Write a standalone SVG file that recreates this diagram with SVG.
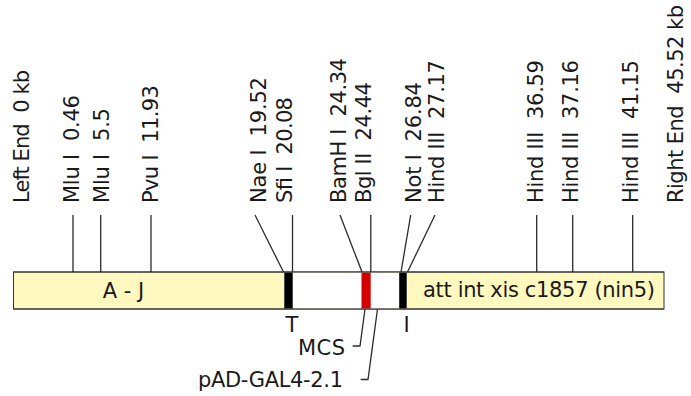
<svg xmlns="http://www.w3.org/2000/svg" width="691" height="396" viewBox="0 0 691 396">
<style>
text{font-family:"DejaVu Sans","Liberation Sans",sans-serif;font-size:21px;fill:#1a1a1a;white-space:pre}
.ln{stroke:#2a2a2a;stroke-width:1.3;fill:none}
.bar{stroke:#333;stroke-width:1}
</style>
<rect width="691" height="396" fill="#fff"/>
<g id="bar">
<rect class="bar" x="13.5" y="272" width="650.5" height="37" fill="#fff8bf"/>
<rect x="292.5" y="272.5" width="114" height="36" fill="#fff"/>
<rect x="284.3" y="272.5" width="8.4" height="36" fill="#000"/>
<rect x="361.5" y="272.5" width="9.2" height="36" fill="#d40000"/>
<rect x="399.2" y="272.5" width="7.5" height="36" fill="#000"/>
<line class="bar" x1="13.5" y1="272" x2="664" y2="272"/>
<line class="bar" x1="13.5" y1="309" x2="664" y2="309"/>
<text x="123.5" y="298" text-anchor="middle">A - J</text>
<text x="423" y="297" textLength="232">att int xis c1857 (nin5)</text>
<text x="292" y="332" text-anchor="middle">T</text>
<text x="406.5" y="332" text-anchor="middle">I</text>
</g>
<g id="connectors">
<line class="ln" x1="73" y1="215" x2="73" y2="272"/>
<line class="ln" x1="100.7" y1="215" x2="100.7" y2="272"/>
<line class="ln" x1="151" y1="215" x2="151" y2="272"/>
<line class="ln" x1="255" y1="215" x2="283.5" y2="272"/>
<line class="ln" x1="292.5" y1="215" x2="292.5" y2="272"/>
<line class="ln" x1="340" y1="215" x2="362" y2="272"/>
<line class="ln" x1="370.8" y1="215" x2="370.8" y2="272"/>
<line class="ln" x1="410.7" y1="215" x2="401" y2="272"/>
<line class="ln" x1="435" y1="215" x2="407.5" y2="272"/>
<line class="ln" x1="536.7" y1="215" x2="536.7" y2="272"/>
<line class="ln" x1="572.7" y1="215" x2="572.7" y2="272"/>
<line class="ln" x1="632.7" y1="215" x2="632.7" y2="272"/>
<polyline class="ln" points="352.7,346 360,346 365,309"/>
<polyline class="ln" points="360.7,379.5 368,379.5 377.5,309"/>
</g>
<g id="labels">
<text transform="translate(29,203) rotate(-90)" textLength="133">Left End  0 kb</text>
<text transform="translate(79,203) rotate(-90)" textLength="108">Mlu I  0.46</text>
<text transform="translate(109,203) rotate(-90)" textLength="95">Mlu I  5.5</text>
<text transform="translate(157.5,203) rotate(-90)" textLength="118">Pvu I  11.93</text>
<text transform="translate(266,203) rotate(-90)" textLength="126">Nae I  19.52</text>
<text transform="translate(292,203) rotate(-90)" textLength="106">Sfi I  20.08</text>
<text transform="translate(346,203) rotate(-90)" textLength="145">BamH I  24.34</text>
<text transform="translate(371,203) rotate(-90)" textLength="121">Bgl II  24.44</text>
<text transform="translate(421,203) rotate(-90)" textLength="121">Not I  26.84</text>
<text transform="translate(444,203) rotate(-90)" textLength="143">Hind III  27.17</text>
<text transform="translate(542.5,203) rotate(-90)" textLength="143">Hind III  36.59</text>
<text transform="translate(577.5,203) rotate(-90)" textLength="143">Hind III  37.16</text>
<text transform="translate(637.5,203) rotate(-90)" textLength="143">Hind III  41.15</text>
<text transform="translate(683,203) rotate(-90)" textLength="198">Right End  45.52 kb</text>
<text x="345" y="355" text-anchor="end" textLength="47">MCS</text>
<text x="198" y="387" textLength="145">pAD-GAL4-2.1</text>
</g>
</svg>
